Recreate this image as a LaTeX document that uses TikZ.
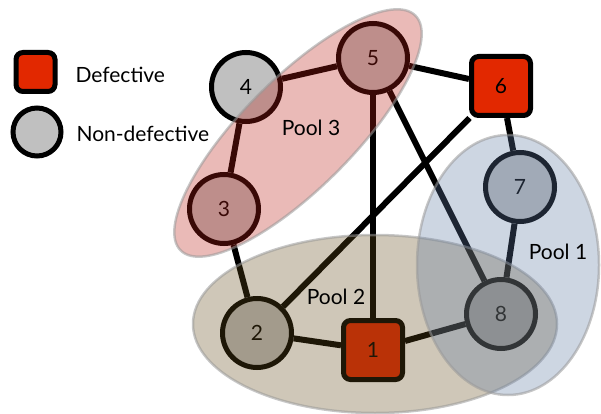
\documentclass[tikz,border=0pt]{standalone}
\usepackage{fontspec}
\setmainfont{Lato}
\usetikzlibrary{backgrounds}
\definecolor{defred}{RGB}{226,40,0}
\definecolor{okgray}{RGB}{192,192,192}
\definecolor{poolred}{RGB}{187,31,22}
\definecolor{poolblue}{RGB}{95,122,163}
\definecolor{pooltan}{RGB}{100,75,25}
\tikzset{
  lbl/.style={font=\fontsize{21}{25}\selectfont},
  good/.style={circle, draw=black, line width=5pt, fill=okgray, minimum size=69pt, inner sep=0pt, lbl},
  bad/.style={rectangle, rounded corners=7pt, draw=black, line width=5pt, fill=defred, minimum size=59pt, inner sep=0pt, lbl},
  link/.style={line width=6pt, black},
  pool/.style={fill opacity=0.31, draw=gray!80, draw opacity=0.55, line width=2.5pt},
}
\begin{document}
\begin{tikzpicture}[x=1pt, y=-1pt]
\useasboundingbox (0,0) rectangle (601,414);

% legend
\node[bad, minimum size=39pt] (keybad) at (35.5,72) {};
\node[good, minimum size=48pt] (keygood) at (37,132) {};
\node[lbl, anchor=west] (keybadtxt) at (72,75) {Defective};
\node[lbl, anchor=west] (keygoodtxt) at (73,134) {Non-defective};

% items
\node[bad]  (n1) at (373,350) {1};
\node[good] (n2) at (257,333) {2};
\node[good] (n3) at (224,209) {3};
\node[good] (n4) at (246,87)  {4};
\node[good] (n5) at (373,58)  {5};
\node[bad]  (n6) at (501,86)  {6};
\node[good] (n7) at (520,187) {7};
\node[good] (n8) at (501,314) {8};

% tests linking the items
\begin{scope}[on background layer]
  \draw[link] (n4) -- (n5);
  \draw[link] (n4) -- (n3);
  \draw[link] (n5) -- (n6);
  \draw[link] (n5) -- (n1);
  \draw[link] (n5) -- (n8);
  \draw[link] (n6) -- (n2);
  \draw[link] (n6) -- (n7);
  \draw[link] (n7) -- (n8);
  \draw[link] (n3) -- (n2);
  \draw[link] (n2) -- (n1);
  \draw[link] (n1) -- (n8);
\end{scope}

% pools, shaded over the items
\draw[pool, fill=pooltan] (375,324) ellipse [x radius=182pt, y radius=89pt];
\draw[pool, fill=poolblue] (508,265) ellipse [x radius=91pt, y radius=130pt];
\draw[pool, fill=poolred, rotate around={45:(298,133)}] (298,133) ellipse [x radius=166pt, y radius=55pt];

\node[lbl] (p3) at (311,128) {Pool 3};
\node[lbl] (p2) at (336,297) {Pool 2};
\node[lbl] (p1) at (558,252) {Pool 1};
\end{tikzpicture}
\end{document}
